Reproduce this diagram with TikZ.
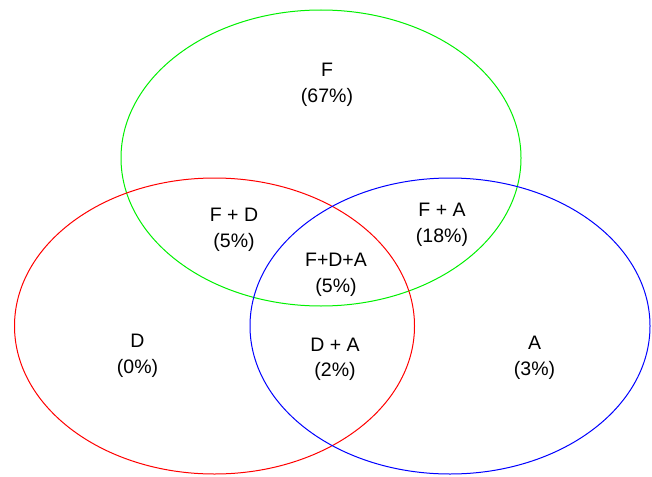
\documentclass[tikz,border=0pt]{standalone}
\usepackage{fontspec}
\setmainfont{Liberation Sans}
\begin{document}
\begin{tikzpicture}[x=1pt,y=-1pt,
  setline/.style={line width=1pt},
  lbl/.style={align=center, anchor=base, inner sep=0pt, font=\fontsize{19.5}{25.5}\selectfont}]
\useasboundingbox (0,0) rectangle (652,476);
\definecolor{cF}{RGB}{0,240,0}
\definecolor{cD}{RGB}{255,0,0}
\definecolor{cA}{RGB}{0,0,255}
\draw[setline, cF] (321,158) ellipse [x radius=200, y radius=148];
\draw[setline, cD] (214.5,326) ellipse [x radius=200, y radius=148];
\draw[setline, cA] (450,326) ellipse [x radius=200, y radius=148];
\node[lbl] (f) at (327,102.5) {F\\(67\%)};
\node[lbl] (fd) at (234,247) {F + D\\(5\%)};
\node[lbl] (fa) at (442,242) {F + A\\(18\%)};
\node[lbl] (fda) at (336,292) {F+D+A\\(5\%)};
\node[lbl] (d) at (137.5,373) {D\\(0\%)};
\node[lbl] (da) at (335,376.5) {D + A\\(2\%)};
\node[lbl] (a) at (534.5,375) {A\\(3\%)};
\end{tikzpicture}
\end{document}
